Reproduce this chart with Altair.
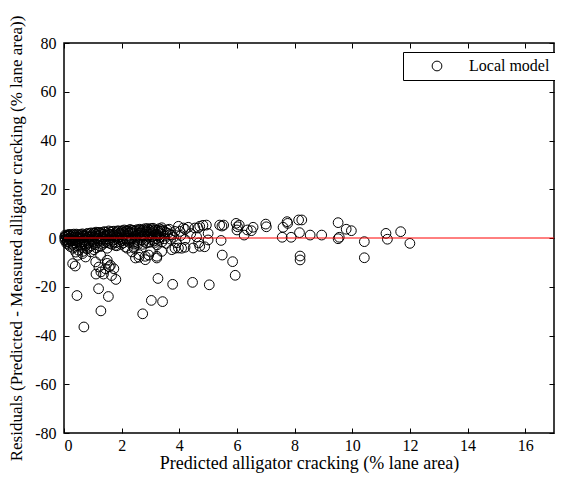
import altair as alt
import pandas as pd

# ---- data (predicted %, residual %) ----
band_points = [
    (0.02, 0.3), (0.05, -0.5), (0.08, 0.8), (0.10, -1.5), (0.12, 0.5), (0.15, -2.6), (0.18, 1.0), (0.20, -0.3),
    (0.22, -3.5), (0.25, 0.6), (0.28, -1.2), (0.30, 1.2), (0.32, -4.2), (0.35, 0.2), (0.38, -2.0), (0.40, 1.0),
    (0.42, -0.8), (0.45, -3.0), (0.48, 1.3), (0.50, -5.0), (0.52, 0.4), (0.55, -1.8), (0.58, 1.5), (0.60, -3.8),
    (0.62, 0.0), (0.65, -5.5), (0.68, 1.2), (0.70, -2.5), (0.72, 0.7), (0.75, -1.0), (0.78, 1.6), (0.80, -4.5),
    (0.83, 0.3), (0.86, -2.2), (0.90, 1.8), (0.92, -0.5), (0.95, -3.2), (0.98, 1.2), (1.00, -1.5), (1.02, 2.0),
    (1.05, 0.5), (1.08, -2.8), (1.10, 1.4), (1.12, -4.0), (1.15, 0.0), (1.18, 2.1), (1.20, -1.2), (1.23, 1.0),
    (1.26, -3.5), (1.30, 2.2), (1.33, -0.3), (1.36, 1.5), (1.40, -2.0), (1.43, 2.4), (1.46, 0.6), (1.50, -4.2),
    (1.53, 1.8), (1.56, -1.0), (1.60, 2.5), (1.63, 0.2), (1.66, -2.6), (1.70, 1.6), (1.73, 2.8), (1.76, -0.6),
    (1.80, 2.2), (1.83, -3.2), (1.86, 1.0), (1.90, 2.9), (1.93, -1.5), (1.96, 2.0), (2.00, 0.5), (2.03, 3.0),
    (2.06, -2.0), (2.10, 1.5), (2.13, 2.6), (2.16, -0.8), (2.20, 3.1), (2.23, 1.0), (2.26, -1.8), (2.30, 2.4),
    (2.33, 0.0), (2.36, 3.2), (2.40, 1.6), (2.43, -2.5), (2.46, 2.8), (2.50, 0.6), (2.53, 3.4), (2.56, -1.0),
    (2.60, 2.0), (2.63, 3.6), (2.66, 0.3), (2.70, 2.9), (2.73, -2.6), (2.76, 1.4), (2.80, 3.8), (2.83, -0.6),
    (2.86, 2.5), (2.90, 1.0), (2.93, 3.5), (2.96, -1.8), (3.00, 2.2), (3.03, 3.9), (3.06, 0.5), (3.10, 2.8),
    (3.13, -1.2), (3.16, 3.3), (3.20, 1.5), (3.23, -2.8), (3.26, 2.4), (3.30, 3.8), (3.33, 0.2), (3.36, 1.8),
    (3.40, -1.6), (3.45, 3.0), (3.50, 0.8), (3.55, -2.2), (3.60, 2.0), (3.65, 3.6), (3.70, -0.5), (3.75, 1.2),
]

band_points_2 = [
    (0.03, -1.0), (0.06, 0.9), (0.09, -2.2), (0.13, 1.1), (0.16, -0.2), (0.19, -1.8), (0.24, 1.4), (0.27, -0.6),
    (0.31, -2.6), (0.34, 1.6), (0.37, -0.9), (0.41, -5.8), (0.44, 0.3), (0.47, -1.6), (0.54, 1.0), (0.57, -0.2),
    (0.61, -2.9), (0.64, 1.7), (0.69, -0.8), (0.74, -3.3), (0.77, 0.0), (0.82, 1.9), (0.85, -1.3), (0.88, 0.6),
    (0.94, 2.1), (0.97, -0.9), (1.04, -4.8), (1.07, 1.9), (1.14, -2.0), (1.17, 0.8), (1.22, 2.3), (1.28, -1.0),
    (1.35, 0.3), (1.39, 2.6), (1.45, -1.4), (1.49, 1.2), (1.55, 2.9), (1.59, -2.2), (1.65, 0.9), (1.69, -1.0),
    (1.75, 1.2), (1.79, -2.0), (1.85, 2.9), (1.89, 0.0), (1.95, -0.7), (1.99, 2.7), (2.05, -0.3), (2.09, 3.3),
    (2.15, 0.8), (2.19, -1.3), (2.25, 2.0), (2.29, 3.5), (2.35, -0.5), (2.39, 2.2), (2.45, -1.5), (2.49, 3.0),
    (2.55, 1.2), (2.59, -2.2), (2.65, 2.2), (2.69, -0.8), (2.75, 3.3), (2.79, 0.8), (2.85, -2.0), (2.89, 3.9),
    (2.95, 0.4), (2.99, 3.0), (3.05, -0.8), (3.09, 4.0), (3.15, 1.0), (3.19, -0.3), (3.25, 3.2), (3.29, -1.0),
    (3.35, 2.8), (3.39, 4.2), (3.48, -0.3), (3.58, 3.3), (3.68, 1.4),
]

band_points_3 = [
    (0.04, 1.2), (0.11, -0.8), (0.17, 1.5), (0.23, -1.2), (0.29, 0.2), (0.36, -3.4), (0.43, 1.6), (0.49, -0.4),
    (0.56, -3.0), (0.63, 0.8), (0.71, -1.6), (0.79, 0.9), (0.87, -3.8), (0.96, 0.4), (1.03, -2.2), (1.11, 2.4),
    (1.19, -0.4), (1.27, 1.8), (1.34, -2.6), (1.42, 0.9), (1.51, -1.8), (1.58, 1.4), (1.67, 2.6), (1.74, -1.6),
    (1.82, 0.4), (1.91, 1.8), (1.98, -2.6), (2.07, 2.2), (2.14, -0.2), (2.22, 2.8), (2.31, -1.0), (2.38, 3.0),
    (2.47, 1.0), (2.54, -1.8), (2.62, 3.1), (2.71, 0.8), (2.78, -1.4), (2.88, 3.0), (2.97, 1.4), (3.07, 3.4),
    (3.17, -1.8), (3.28, 1.0), (3.38, 3.4), (3.52, 2.4),
]

mid_points = [
    (3.80, 0.3), (3.85, 2.7), (3.90, -2.0), (3.97, 4.8), (4.02, 2.7), (4.05, 1.0), (4.14, 4.1), (4.20, -0.6),
    (4.20, 3.6), (4.31, 4.4), (4.40, 1.8), (4.54, 4.1), (4.60, 0.5), (4.71, 4.8), (4.82, 5.2), (4.65, 4.1),
    (4.67, -2.0), (4.94, 5.3), (5.00, 1.9), (5.00, -0.8),
]

under_points = [
    (3.97, -4.1), (4.20, -3.8), (4.48, -4.1), (4.71, -3.4), (4.88, -3.6), (3.85, -4.2), (4.08, -4.2), (3.74, -4.8),
    (2.42, -4.1), (2.60, -6.8), (2.82, -7.5), (3.22, -7.5), (3.00, -5.5), (3.39, -5.5), (2.48, -8.2), (2.82, -8.9),
    (3.22, -8.2), (2.20, -4.2), (2.42, -3.5), (2.94, -7.0), (2.60, -7.9), (2.36, -5.7), (1.78, -3.0), (2.13, -3.7),
    (0.30, -10.5), (0.39, -11.5), (0.47, -7.1), (0.64, -6.4), (0.75, -7.8), (1.10, -9.8), (1.21, -11.9),
    (1.50, -9.1), (1.61, -11.2), (1.44, -12.6), (1.73, -12.6), (1.27, -7.1), (0.93, -5.7), (1.50, -10.4),
    (1.57, -11.8), (1.11, -14.8), (1.28, -13.9), (1.37, -14.8), (1.65, -15.4), (1.80, -17.0), (1.20, -20.8),
    (0.45, -23.6), (1.54, -24.0), (1.28, -29.9), (0.69, -36.5), (2.73, -31.1), (3.03, -25.6), (3.42, -26.1),
    (3.26, -16.6), (3.77, -19.0), (4.46, -18.2), (5.04, -19.2), (5.94, -15.3), (5.49, -7.0), (5.85, -9.7),
    (5.45, -1.0),
]

high_points = [
    (5.40, 5.3), (5.48, 4.9), (5.54, 5.3), (5.97, 6.0), (6.02, 4.6), (6.00, 3.3), (6.08, 5.3), (6.25, 1.2),
    (6.36, 3.3), (6.50, 3.0), (6.56, 4.4), (7.00, 5.7), (7.02, 4.6), (7.57, 0.3), (7.60, 4.4), (7.74, 6.7),
    (7.76, 6.0), (7.88, 0.3), (8.14, 7.4), (8.25, 7.4), (8.17, 2.2), (8.19, -7.4), (8.19, -9.0), (8.54, 1.2),
    (8.94, 1.2), (9.51, 6.3), (9.55, 0.3), (9.51, -0.3), (9.79, 3.6), (9.97, 3.0), (10.42, -1.5), (10.42, -8.1),
    (11.17, 1.9), (11.22, -0.5), (11.68, 2.6), (12.00, -2.2),
]

x_ticks = [0, 2, 4, 6, 8, 10, 12, 14, 16]
y_ticks = [-80, -60, -40, -20, 0, 20, 40, 60, 80]
zero_line = {"start": [0], "end": [17], "level": [0]}

series_name = "Local model"
x_title = "Predicted alligator cracking (% lane area)"
y_title = "Residuals (Predicted - Measured alligator cracking (% lane area))"

# ---- build ----
df = pd.DataFrame(band_points + band_points_2 + band_points_3 + mid_points + under_points + high_points,
                  columns=["pred", "resid"])
df["series"] = series_name

FONT = "'Liberation Serif', 'Times New Roman', 'DejaVu Serif', serif"
xs = alt.Scale(domain=[0, 17], nice=False, zero=False)
ys = alt.Scale(domain=[-80, 80], nice=False, zero=False)

points = alt.Chart(df).mark_point(
    shape="circle", filled=False, size=95, strokeWidth=1, opacity=1
).encode(
    x=alt.X("pred:Q", scale=xs, axis=alt.Axis(
        orient="bottom", values=x_ticks, title=x_title, offset=-5, tickSize=5,
        domain=False, grid=False, labelPadding=4, titlePadding=1,
        labelFont=FONT, labelFontSize=16, titleFont=FONT, titleFontSize=18,
        labelExpr="toString(datum.value)")),
    y=alt.Y("resid:Q", scale=ys, axis=alt.Axis(
        orient="left", values=y_ticks, title=y_title, offset=-5, tickSize=5,
        domain=False, grid=False, labelPadding=8, titlePadding=9,
        labelFont=FONT, labelFontSize=16, titleFont=FONT, titleFontSize=17,
        labelExpr="toString(datum.value)")),
    color=alt.Color("series:N", scale=alt.Scale(range=["black"]), legend=alt.Legend(
        title=None, orient="none", legendX=339, legendY=9, strokeColor="black",
        fillColor="white", padding=6, symbolOffset=20, labelOffset=24,
        labelFont=FONT, labelFontSize=16, labelColor="black", symbolType="circle",
        symbolSize=95, symbolStrokeWidth=1, symbolStrokeColor="black")),
)

rule = alt.Chart(pd.DataFrame(zero_line)).mark_rule(color="#ff0000", strokeWidth=1).encode(
    x=alt.X("start:Q", scale=xs, axis=alt.Axis(
        orient="top", values=x_ticks, labels=False, title=None, offset=-5, tickSize=5,
        domain=False, grid=False)),
    x2="end:Q",
    y=alt.Y("level:Q", scale=ys, axis=alt.Axis(
        orient="right", values=y_ticks, labels=False, title=None, offset=-5, tickSize=5,
        domain=False, grid=False)),
)

chart = alt.layer(points, rule).resolve_axis(x="independent", y="independent").properties(
    width=490, height=390,
    autosize=alt.AutoSizeParams(type="none"),
    padding={"left": 56, "top": 35, "right": 1, "bottom": 41},
    background="white",
).configure_view(stroke="black", strokeWidth=1.5).configure_axis(
    labelFont=FONT, titleFont=FONT, labelFontSize=16, titleFontSize=18,
    labelColor="black", titleColor="black", titleFontWeight="normal",
    tickColor="black", tickWidth=1,
)

chart.save("out.html", embed_options={"renderer": "svg", "actions": False})
